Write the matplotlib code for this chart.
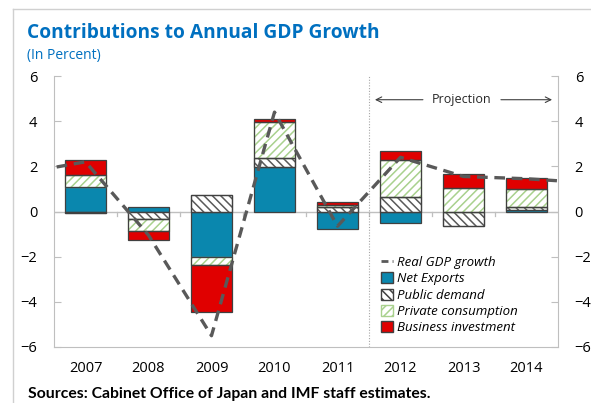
import numpy as np
import matplotlib.pyplot as plt
from matplotlib.patches import Patch
from matplotlib.lines import Line2D

plt.rcParams['font.family'] = ['Open Sans', 'DejaVu Sans']
plt.rcParams['hatch.linewidth'] = 1.1

years = ['2007', '2008', '2009', '2010', '2011', '2012', '2013', '2014']
net_exports = [1.10, 0.20, -2.00, 1.95, -0.77, -0.50, 0.00, 0.08]
public_demand = [-0.08, -0.35, 0.73, 0.40, 0.20, 0.66, -0.65, 0.13]
private_cons = [0.50, -0.52, -0.37, 1.60, 0.10, 1.60, 1.03, 0.80]
business_inv = [0.70, -0.40, -2.10, 0.13, 0.12, 0.44, 0.62, 0.47]

# real GDP growth incl. 2006 and 2015 so the line runs out to the frame edges
gdp_years = ['2006'] + years + ['2015']
gdp_growth = [1.70, 2.20, -1.05, -5.50, 4.40, -0.65, 2.40, 1.55, 1.45, 1.27]

blue = '#0A87AE'
red = '#E00000'
green = '#A9D18E'
edge = '#404040'
pub_hatch = '\\\\\\\\'

fig = plt.figure(figsize=(5.91, 4.03), dpi=100)
ax = fig.add_axes([54 / 591, 56 / 403, 504 / 591, 271 / 403])

x = np.arange(len(years))
width = 0.66

series = [
    (net_exports, dict(color=blue, edgecolor=edge)),
    (public_demand, dict(facecolor='white', edgecolor='#595959', hatch=pub_hatch)),
    (private_cons, dict(facecolor='white', edgecolor=green, hatch='////')),
    (business_inv, dict(color=red, edgecolor=edge)),
]

# stack positives up from zero and negatives down from zero
pos_base = np.zeros(len(years))
neg_base = np.zeros(len(years))
for vals, style in series:
    vals = np.array(vals)
    base = np.where(vals >= 0, pos_base, neg_base)
    ax.bar(x, vals, width, bottom=base, linewidth=0.9, zorder=2, **style)
    if 'hatch' in style:
        # dark grey outline over the hatched fill
        ax.bar(x, vals, width, bottom=base, fill=False, edgecolor=edge,
               linewidth=0.9, zorder=2.1)
    pos_base += np.where(vals >= 0, vals, 0)
    neg_base += np.where(vals < 0, vals, 0)

gx = np.arange(-1, len(years) + 1)
ax.plot(gx, gdp_growth, color='#595959', lw=2.4, ls=(0, (3.2, 2)), zorder=3)

ax.set_xlim(-0.5, len(years) - 0.5)
ax.set_ylim(-6, 6)
ax.axhline(0, color='#BFBFBF', lw=1.0, zorder=1)

# boundary ticks along the zero line
for b in np.arange(0.5, len(years) - 0.5):
    ax.plot([b, b], [0, -0.2], color='#BFBFBF', lw=0.9, zorder=1)

ax.axvline(4.5, color='#A6A6A6', lw=0.8, ls=(0, (1, 1.5)), zorder=1)

for s in ax.spines.values():
    s.set_color('#BFBFBF')
ax.spines['top'].set_visible(False)

ax.set_xticks(x)
ax.set_xticklabels(years, fontsize=10.5)
ax.tick_params(axis='x', length=0, pad=10)
ax.set_yticks(np.arange(-6, 7, 2))
ax.tick_params(axis='y', direction='in', length=5, color='#BFBFBF',
               labelsize=10.5, pad=12, left=True, right=True,
               labelleft=True, labelright=True)

ax.annotate('', xy=(4.55, 4.95), xytext=(5.4, 4.95),
            arrowprops=dict(arrowstyle='->', color='#404040', lw=0.8))
ax.annotate('', xy=(7.45, 4.95), xytext=(6.55, 4.95),
            arrowprops=dict(arrowstyle='->', color='#404040', lw=0.8))
ax.text(5.97, 4.95, 'Projection', ha='center', va='center', fontsize=9,
        color='#262626')

handles = [
    Line2D([], [], color='#595959', lw=2, ls=(0, (2.5, 1.5))),
    Patch(facecolor=blue, edgecolor=edge),
    Patch(facecolor='white', edgecolor='#404040', hatch=pub_hatch),
    Patch(facecolor='white', edgecolor=green, hatch='////'),
    Patch(facecolor=red, edgecolor=edge),
]
labels = ['Real GDP growth', 'Net Exports', 'Public demand',
          'Private consumption', 'Business investment']
leg = ax.legend(handles, labels, loc='upper left', bbox_to_anchor=(0.63, 0.37),
                frameon=False, handlelength=0.9, handleheight=0.9,
                handletextpad=0.3, labelspacing=0.25, borderpad=0.2,
                prop=dict(style='italic', size=9.5))

fig.text(27 / 591, 1 - 33 / 403, 'Contributions to Annual GDP Growth',
         color='#0070C0', fontsize=13.8, fontweight='bold', va='center')
fig.text(27 / 591, 1 - 56 / 403, '(In Percent)', color='#0070C0',
         fontsize=10, va='center')
fig.text(28 / 591, 1 - 394 / 403,
         'Sources: Cabinet Office of Japan and IMF staff estimates.',
         fontsize=11.3, fontweight='bold', va='center', family='Lato')

# light frame on the left and top
fig.add_artist(Line2D([13 / 591, 13 / 591], [0, 1 - 9 / 403],
                      transform=fig.transFigure, color='#D0D0D0', lw=1))
fig.add_artist(Line2D([13 / 591, 1], [1 - 9 / 403, 1 - 9 / 403],
                      transform=fig.transFigure, color='#D0D0D0', lw=1))

fig.savefig('out.png', dpi=100)
